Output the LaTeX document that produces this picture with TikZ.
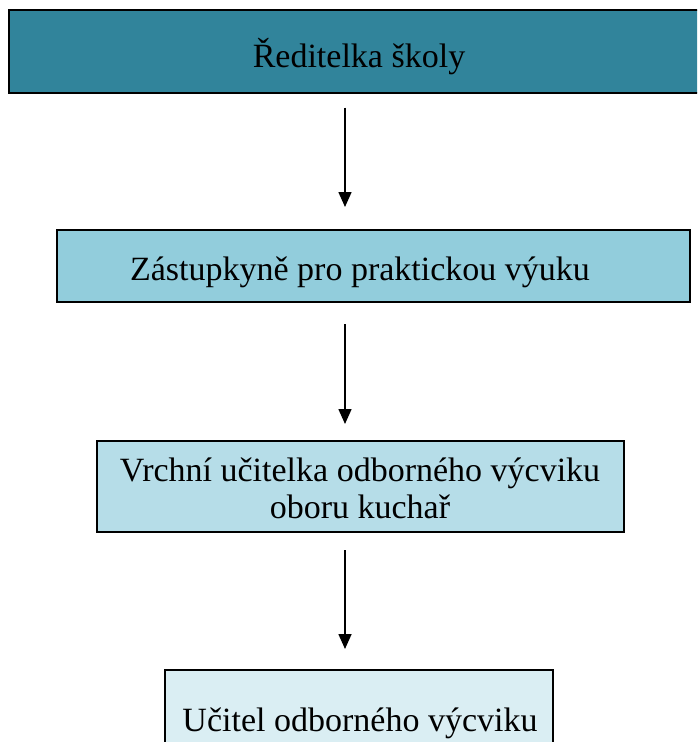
\documentclass[tikz,border=0pt]{standalone}
\usepackage{fontspec}
\setmainfont{Liberation Serif}
\usetikzlibrary{arrows.meta}
\definecolor{cA}{HTML}{31849B}
\definecolor{cB}{HTML}{92CDDC}
\definecolor{cC}{HTML}{B6DDE8}
\definecolor{cD}{HTML}{DAEEF3}
\begin{document}
\begin{tikzpicture}[x=1pt,y=-1pt,
  box/.style={draw=black, line width=2pt, inner sep=0pt},
  txt/.style={inner sep=0pt, align=center, font=\fontsize{34}{37}\selectfont},
  arr/.style={line width=1.6pt, -{Triangle[length=15pt,width=13pt]}}]
\useasboundingbox (0,0) rectangle (697,742);
\clip (0,0) rectangle (697,742);
\coordinate (ax) at (345,0);
\node[box, fill=cA, minimum width=697, minimum height=83] (a) at (357.5,51) {};
\node[box, fill=cB, minimum width=633, minimum height=72] (b) at (373.5,266) {};
\node[box, fill=cC, minimum width=527, minimum height=91] (c) at (360.5,486.5) {};
\node[box, fill=cD, minimum width=388, minimum height=110] (d) at (359,725) {};
\node[txt] (ta) at (359,57) {Ředitelka školy};
\node[txt] (tb) at (360,272) {Zástupkyně pro praktickou výuku};
\node[txt] (tc) at (360,488) {Vrchní učitelka odborného výcviku\\oboru kuchař};
\node[txt] (td) at (360,723) {Učitel odborného výcviku};
\draw[arr, shorten <=14pt, shorten >=22pt] (a.south -| ax) -- (b.north -| ax);
\draw[arr, shorten <=21pt, shorten >=16pt] (b.south -| ax) -- (c.north -| ax);
\draw[arr, shorten <=17pt, shorten >=20pt] (c.south -| ax) -- (d.north -| ax);
\end{tikzpicture}
\end{document}
